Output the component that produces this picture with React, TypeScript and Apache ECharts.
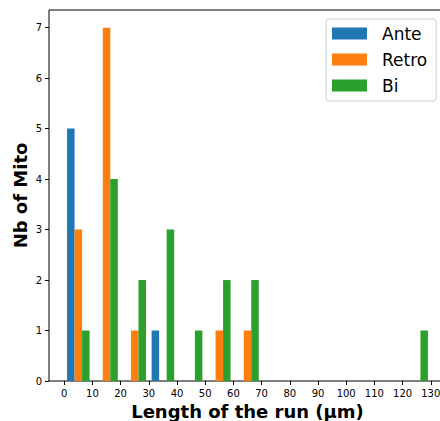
import React, { useEffect, useRef } from "react";
import * as echarts from "echarts";

const binStarts = [0, 10, 20, 30, 40, 50, 60, 70, 80, 90, 100, 110, 120];
const ante = [5, 0, 0, 1, 0, 0, 0, 0, 0, 0, 0, 0, 0];
const retro = [3, 7, 1, 0, 0, 1, 1, 0, 0, 0, 0, 0, 0];
const bi = [1, 4, 2, 3, 1, 2, 2, 0, 0, 0, 0, 0, 1];
const seriesNames = ["Ante", "Retro", "Bi"];
const seriesColors = ["#1f77b4", "#ff7f0e", "#2ca02c"];
const xTickValues = [0, 10, 20, 30, 40, 50, 60, 70, 80, 90, 100, 110, 120, 130];

const BIN_WIDTH = 10;
const RWIDTH = 0.8;
const N_SERIES = 3;

export default function App() {
  const ref = useRef<HTMLDivElement>(null);
  useEffect(() => {
    if (!ref.current) return;
    const chart = echarts.init(ref.current, undefined, { renderer: "svg" });
    const all = [ante, retro, bi];
    const barW = (BIN_WIDTH * RWIDTH) / N_SERIES;
    const series = all.map((vals, k) => ({
      type: "custom",
      name: seriesNames[k],
      itemStyle: { color: seriesColors[k] },
      data: vals.map((v, i) => [binStarts[i], v]),
      renderItem: (params: any, api: any) => {
        const start = api.value(0);
        const v = api.value(1);
        const x0 = start + (BIN_WIDTH * (1 - RWIDTH)) / 2 + k * barW;
        const p0 = api.coord([x0, v]);
        const p1 = api.coord([x0 + barW, 0]);
        return {
          type: "rect",
          shape: { x: p0[0], y: p0[1], width: p1[0] - p0[0], height: p1[1] - p0[1] },
          style: { fill: seriesColors[k] },
        };
      },
    }));
    chart.setOption({
      animation: false,
      textStyle: { fontFamily: "DejaVu Sans" },
      grid: {
        left: 49,
        top: 10,
        right: -6,
        bottom: 40,
        outerBoundsMode: "none",
        containLabel: false,
        show: true,
        borderColor: "#000",
        borderWidth: 1,
        backgroundColor: "transparent",
      },
      legend: {
        orient: "vertical",
        left: 326,
        top: 19,
        data: seriesNames,
        icon: "rect",
        itemWidth: 35,
        itemHeight: 12,
        itemGap: 9,
        padding: [6, 9, 7, 6],
        backgroundColor: "#fff",
        borderColor: "#d0d0d0",
        borderWidth: 1,
        borderRadius: 3,
        textStyle: {
          fontFamily: "DejaVu Sans",
          fontSize: 17,
          lineHeight: 17,
          color: "#000",
          padding: [0, 0, 0, 10],
        },
      },
      xAxis: {
        type: "value",
        min: -5.4,
        max: 135.4,
        name: "Length of the run (μm)",
        nameLocation: "middle",
        nameGap: 21,
        nameMoveOverlap: false,
        nameTextStyle: { fontFamily: "DejaVu Sans", fontSize: 18, fontWeight: "bold", color: "#000" },
        splitLine: { show: false },
        axisLine: { show: false, onZero: false },
        axisTick: { show: true, length: 4, lineStyle: { color: "#000" }, customValues: xTickValues },
        axisLabel: {
          fontFamily: "DejaVu Sans",
          fontSize: 10,
          color: "#000",
          margin: 7,
          customValues: xTickValues,
        },
      },
      yAxis: {
        type: "value",
        min: 0,
        max: 7.35,
        interval: 1,
        name: "Nb of Mito",
        nameLocation: "middle",
        nameGap: 20,
        nameMoveOverlap: false,
        nameTextStyle: { fontFamily: "DejaVu Sans", fontSize: 18, fontWeight: "bold", color: "#000" },
        splitLine: { show: false },
        axisLine: { show: false, onZero: false },
        axisTick: { show: true, length: 4, lineStyle: { color: "#000" } },
        axisLabel: {
          fontFamily: "DejaVu Sans",
          fontSize: 10,
          color: "#000",
          margin: 7,
          showMaxLabel: false,
          formatter: (v: number) => (Number.isInteger(v) ? String(v) : ""),
        },
      },
      series,
    });
    return () => chart.dispose();
  }, []);
  return (
    <div
      ref={ref}
      style={{ position: "fixed", left: 0, top: 0, width: 440, height: 421, background: "#fff" }}
    />
  );
}
